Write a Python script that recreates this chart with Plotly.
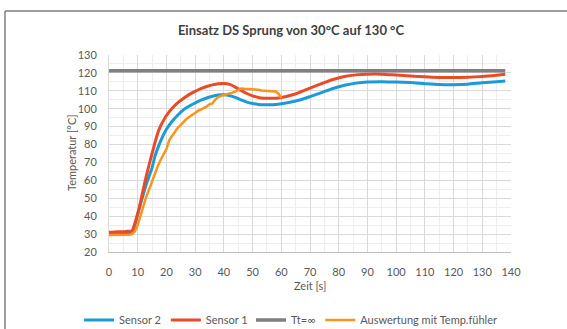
import plotly.graph_objects as go

# ---------------- data ----------------
t_s1 = [0, 2, 4, 6, 8, 9, 10, 11, 12, 13, 14, 15, 16, 17, 18, 19, 20, 22, 24, 26, 28, 30, 32, 34, 36, 38, 40,
        42, 44, 46, 48, 50, 52, 54, 56, 58, 60, 63, 66, 70, 74, 78, 82, 86, 90, 95, 100, 105, 110, 115, 120,
        125, 130, 135, 138]
sensor1 = [31.0, 31.2, 31.3, 31.5, 31.8, 36.0, 41.5, 48.0, 55.5, 62.5, 69.0, 75.0, 81.0, 86.5, 90.5, 93.5, 96.2,
           100.3, 103.4, 105.8, 108.0, 109.7, 111.2, 112.4, 113.3, 113.9, 114.1,
           113.6, 112.1, 110.2, 108.5, 107.2, 106.3, 105.9, 105.8, 105.9, 106.3, 107.4, 108.9, 111.5, 114.0,
           116.3, 118.0, 118.9, 119.3, 119.3, 118.8, 118.3, 117.8, 117.5, 117.4, 117.6, 118.0, 118.7, 119.2]

t_s2 = [0, 2, 4, 6, 8, 9, 10, 11, 12, 13, 14, 15, 16, 17, 18, 19, 20, 22, 24, 26, 28, 30, 32, 34, 36, 38, 40,
        42, 44, 46, 48, 50, 52, 54, 56, 58, 60, 63, 66, 70, 74, 78, 82, 86, 90, 95, 100, 105, 110, 115, 120,
        125, 130, 135, 138]
sensor2 = [30.5, 30.5, 30.6, 30.7, 31.0, 35.0, 41.0, 47.0, 52.5, 58.0, 62.5, 67.0, 73.5, 78.0, 82.0, 85.5, 88.5,
           93.0, 96.5, 99.5, 101.5, 103.2, 104.8, 106.0, 107.0, 107.7, 107.8,
           107.3, 106.3, 104.9, 103.7, 102.9, 102.4, 102.2, 102.2, 102.4, 102.8, 103.6, 104.7, 106.8, 109.0,
           111.3, 113.1, 114.3, 114.9, 115.0, 114.9, 114.6, 114.0, 113.5, 113.4, 113.7, 114.5, 115.1, 115.5]

t_tt = [0, 138]
tt_inf = [121.2, 121.2]

t_aus = [0, 2, 4, 6, 7, 8, 9, 10, 11, 12, 13, 14, 15, 16, 17, 18, 19, 20, 21, 22, 23, 24, 25, 26, 27, 28, 29,
         30, 31, 32, 33, 34, 35, 36, 37, 38, 39, 40, 41, 42, 43, 44, 45, 46, 47, 48, 49, 50, 51, 52, 53, 54,
         55, 56, 57, 58, 59, 60]
auswertung = [29.5, 29.5, 29.5, 29.5, 29.6, 30.0, 31.5, 35.0, 40.5, 46.0, 51.0, 55.0, 59.5, 63.5, 68.0, 71.5,
              74.5, 77.5, 82.5, 85.0, 87.5, 89.5, 91.0, 92.8, 94.3, 95.5, 96.8, 97.6, 98.8, 99.5, 100.6, 101.2,
              102.5, 103.0, 105.0, 106.5, 107.2, 107.6, 107.8, 108.3, 109.0, 109.6, 110.5, 111.3, 111.1, 111.0,
              111.1, 110.8, 110.7, 110.6, 110.2, 110.0, 109.8, 109.6, 109.7, 109.6, 108.5, 106.0]

names = ["Sensor 2", "Sensor 1", "Tt=\u221e", "Auswertung mit Temp.f\u00fchler"]
colors = ["#1a9bd7", "#ea4b26", "#808080", "#f7941d"]

x_ticks = list(range(0, 141, 10))
y_ticks = list(range(20, 131, 10))

FONT = "Lato"
TXT = "#595959"

fig = go.Figure()
fig.add_trace(go.Scatter(x=t_s2, y=sensor2, name=names[0], mode="lines", legend="legend",
                         line=dict(color=colors[0], width=3, shape="spline", smoothing=0.5)))
fig.add_trace(go.Scatter(x=t_s1, y=sensor1, name=names[1], mode="lines", legend="legend",
                         line=dict(color=colors[1], width=3, shape="spline", smoothing=0.5)))
fig.add_trace(go.Scatter(x=t_tt, y=tt_inf, name=names[2], mode="lines", legend="legend2",
                         line=dict(color=colors[2], width=3.5)))
fig.add_trace(go.Scatter(x=t_aus, y=auswertung, name=names[3], mode="lines", legend="legend2",
                         line=dict(color=colors[3], width=2.5)))

L, R, T, B = 109, 56, 55, 77
W, H = 567, 329
pw = W - L - R
ph = H - T - B

def px(x):
    return (x - L) / pw

def py(y):
    return (H - B - y) / ph

leg_common = dict(orientation="h", xref="container", yref="container", xanchor="left",
                  y=1 - 320 / H, yanchor="middle",
                  font=dict(family=FONT, size=11, color=TXT), bgcolor="rgba(0,0,0,0)",
                  traceorder="normal")

fig.update_layout(
    width=W, height=H,
    margin=dict(l=L, r=R, t=T, b=B, autoexpand=False),
    paper_bgcolor="white", plot_bgcolor="white",
    font=dict(family=FONT, size=11, color=TXT),
    showlegend=True,
    legend=dict(x=79 / W, **leg_common),
    legend2=dict(x=251 / W, **leg_common),
    title=dict(text="<b>Einsatz DS Sprung von 30\u00b0C auf 130 \u00b0C</b>",
               x=px(291), xref="paper", xanchor="center",
               y=1 - 30 / H, yref="container", yanchor="middle",
               font=dict(family=FONT, size=13, color="#404040")),
    xaxis=dict(range=[0, 140], tickvals=x_ticks, ticktext=[str(v) for v in x_ticks],
               showgrid=True, gridcolor="#d9d9d9", gridwidth=1,
               minor=dict(dtick=5, tick0=0, showgrid=True, gridcolor="#eeeeee", gridwidth=1),
               showline=True, linecolor="#bfbfbf", linewidth=1, mirror=False,
               zeroline=False, ticks="", ticklabelstandoff=10, automargin=False,
               tickfont=dict(family=FONT, size=11, color=TXT), fixedrange=True),
    yaxis=dict(range=[20, 130], tickvals=y_ticks, ticktext=[str(v) for v in y_ticks],
               showgrid=True, gridcolor="#d9d9d9", gridwidth=1,
               minor=dict(dtick=5, tick0=20, showgrid=True, gridcolor="#eeeeee", gridwidth=1),
               showline=True, linecolor="#d9d9d9", linewidth=1,
               zeroline=False, ticks="", ticklabelstandoff=9, automargin=False,
               tickfont=dict(family=FONT, size=11, color=TXT), fixedrange=True),
    annotations=[
        dict(text="Zeit [s]", xref="paper", yref="paper", x=px(310), y=py(285),
             xanchor="center", yanchor="middle", showarrow=False,
             font=dict(family=FONT, size=11, color=TXT)),
        dict(text="Temperatur [\u00b0C]", xref="paper", yref="paper", x=px(71), y=py(153),
             xanchor="center", yanchor="middle", showarrow=False, textangle=-90,
             font=dict(family=FONT, size=11, color=TXT)),
    ],
    shapes=[
        dict(type="line", xref="paper", yref="paper", x0=px(5), x1=px(600), y0=py(11), y1=py(11),
             line=dict(color="#7f7f7f", width=1.5)),
        dict(type="line", xref="paper", yref="paper", x0=px(5), x1=px(5), y0=py(11), y1=py(360),
             line=dict(color="#7f7f7f", width=1.5)),
    ],
)

fig.write_html("out.html", config={"displayModeBar": False},
               post_script="document.body.style.margin='0';")
